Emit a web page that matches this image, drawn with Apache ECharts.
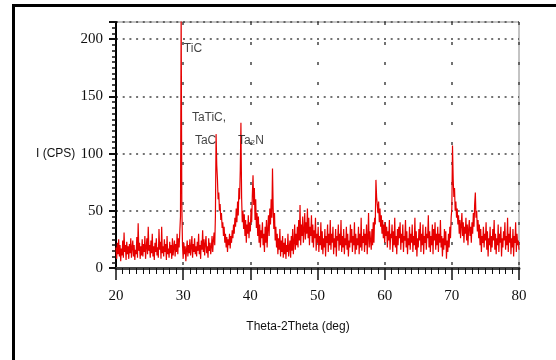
<!DOCTYPE html>
<html>
<head>
<meta charset="utf-8">
<script src="https://cdn.jsdelivr.net/npm/echarts@6/dist/echarts.min.js"></script>
<style>
  html, body { margin: 0; padding: 0; background: #fff; }
  #wrap { position: relative; width: 556px; height: 360px; overflow: hidden; }
  #chart { position: absolute; left: 0; top: 0; width: 556px; height: 360px; }
  #frame { position: absolute; left: 12px; top: 4px; width: 600px; height: 353px;
           border-left: 3px solid #000; border-top: 3px solid #000; border-bottom: 1px solid #d8d8d8;
           pointer-events: none; }
</style>
</head>
<body>
<div id="wrap">
  <div id="chart"></div>
  <div id="frame"></div>
</div>
<script>
// 2theta scan, 20..80 deg, one reading every 0.1 deg (one row = one degree)
const angleStart = 20;
const angleStep = 0.1;
const intensity = [
  18, 8, 22, 12, 25, 10, 20, 6, 17, 11,
  24, 9, 31, 14, 20, 7, 23, 12, 19, 8,
  21, 13, 26, 9, 18, 24, 10, 20, 7, 16,
  12, 27, 9, 39, 15, 22, 8, 19, 11, 25,
  10, 21, 14, 28, 8, 18, 26, 12, 36, 15,
  20, 9, 24, 13, 30, 10, 19, 7, 22, 14,
  26, 11, 18, 9, 34, 16, 23, 8, 36, 13,
  19, 10, 25, 14, 21, 7, 28, 12, 17, 9,
  23, 13, 20, 8, 26, 11, 18, 24, 10, 21,
  14, 30, 12, 26, 18, 32, 45, 225, 55, 20,
  8, 22, 12, 19, 6, 16, 24, 10, 20, 13,
  25, 11, 18, 28, 9, 21, 14, 26, 12, 19,
  10, 23, 15, 30, 12, 20, 8, 24, 16, 33,
  14, 25, 11, 21, 28, 13, 19, 9, 26, 15,
  22, 12, 18, 28, 14, 24, 31, 20, 45, 117,
  90, 78, 60, 66, 50, 56, 42, 48, 35, 40,
  28, 36, 22, 30, 18, 27, 14, 25, 20, 30,
  17, 28, 22, 33, 26, 38, 30, 44, 36, 52,
  40, 58, 46, 70, 60, 85, 127, 62, 40, 50,
  34, 47, 28, 42, 22, 38, 30, 46, 26, 40,
  32, 52, 40, 64, 81, 55, 70, 42, 60, 35,
  48, 28, 45, 22, 38, 18, 33, 26, 40, 20,
  30, 14, 36, 22, 42, 18, 34, 46, 28, 52,
  38, 60, 44, 87, 52, 34, 48, 24, 36, 18,
  30, 12, 26, 16, 34, 10, 24, 14, 28, 9,
  22, 12, 26, 8, 20, 14, 30, 10, 18, 24,
  9, 28, 15, 34, 12, 22, 38, 16, 30, 20,
  36, 18, 42, 24, 55, 20, 38, 28, 45, 22,
  33, 48, 25, 40, 30, 52, 26, 44, 20, 36,
  28, 46, 22, 38, 18, 33, 26, 44, 15, 30,
  22, 36, 14, 28, 20, 40, 16, 32, 12, 26,
  18, 34, 10, 28, 22, 38, 14, 30, 20, 42,
  16, 30, 22, 36, 12, 26, 18, 34, 10, 28,
  24, 38, 15, 30, 20, 42, 14, 28, 18, 34,
  12, 26, 20, 36, 16, 30, 10, 24, 18, 38,
  22, 34, 14, 28, 20, 40, 12, 30, 16, 26,
  20, 36, 12, 30, 18, 44, 15, 28, 22, 34,
  14, 30, 20, 38, 12, 26, 48, 18, 32, 24,
  16, 34, 20, 40, 22, 44, 38, 77, 62, 55,
  48, 58, 40, 52, 36, 46, 30, 42, 26, 38,
  22, 40, 28, 36, 18, 32, 24, 42, 16, 30,
  26, 38, 14, 32, 20, 44, 18, 28, 12, 34,
  20, 36, 26, 40, 16, 30, 22, 38, 14, 28,
  24, 42, 18, 32, 12, 26, 20, 36, 16, 30,
  22, 38, 14, 28, 20, 44, 16, 32, 10, 26,
  18, 34, 24, 40, 14, 30, 20, 38, 12, 28,
  22, 36, 16, 30, 26, 46, 18, 32, 14, 28,
  20, 38, 12, 34, 24, 40, 16, 30, 20, 36,
  14, 30, 22, 42, 18, 28, 10, 26, 16, 34,
  20, 32, 8, 24, 14, 30, 18, 36, 26, 44,
  52, 107, 78, 62, 70, 50, 58, 44, 52, 38,
  46, 30, 42, 26, 38, 48, 28, 40, 22, 36,
  30, 44, 24, 38, 20, 34, 42, 28, 36, 22,
  40, 30, 48, 36, 56, 66, 44, 50, 32, 42,
  26, 38, 20, 34, 14, 28, 22, 36, 18, 30,
  24, 40, 16, 32, 10, 26, 20, 36, 14, 28,
  18, 34, 24, 42, 16, 30, 12, 26, 20, 38,
  14, 30, 22, 36, 10, 26, 18, 32, 24, 40,
  16, 28, 20, 44, 14, 30, 22, 36, 12, 26,
  18, 34, 10, 28, 22, 40, 14, 30, 20, 24,
  16
];

const xTicks = [20, 30, 40, 50, 60, 70, 80];
const yTicks = [0, 50, 100, 150, 200];

// phase labels and where they sit (deg, CPS)
const phaseNames = ['TiC', 'TaTiC,', 'TaC', 'Ta₂N'];
const phaseX = [30.1, 31.3, 31.75, 38.15];
const phaseY = [192, 131, 111, 111];

const scan = intensity.map((v, i) => [+(angleStart + i * angleStep).toFixed(1), v]);
const phases = phaseNames.map((n, i) => [phaseX[i], phaseY[i], n]);

const serif = '"Liberation Serif", "DejaVu Serif", serif';
const sans = '"Liberation Sans", "Noto Sans", sans-serif';

const chart = echarts.init(document.getElementById('chart'));
chart.setOption({
  animation: false,
  grid: { left: 116, right: 37, top: 22, bottom: 92, show: true, borderColor: '#888', borderWidth: 1 },
  xAxis: [
    {
      type: 'value', min: xTicks[0], max: xTicks[xTicks.length - 1], interval: 10,
      axisLine: { lineStyle: { color: '#000', width: 2 } },
      axisTick: { length: 12, lineStyle: { color: '#111', width: 1.5 } },
      minorTick: { show: true, splitNumber: 10, length: 6, lineStyle: { color: '#111', width: 1 } },
      axisLabel: { fontFamily: serif, fontSize: 15, color: '#111', margin: 21 },
      splitLine: { show: true, lineStyle: { color: '#444', width: 1.5, type: [3, 17] } }
    },
    {
      type: 'value', position: 'top', min: 20, max: 80,
      axisLine: { show: true, lineStyle: { color: '#444', width: 3 } },
      axisTick: { show: false }, axisLabel: { show: false }, splitLine: { show: false }
    }
  ],
  yAxis: [
    {
      type: 'value', position: 'left', min: 0, max: 215, interval: 50,
      axisLine: { show: true, lineStyle: { color: '#000', width: 2 } },
      axisTick: { show: true, length: 7, lineStyle: { color: '#111', width: 2 } },
      axisLabel: {
        fontFamily: serif, fontSize: 15, color: '#111', margin: 13,
        formatter: v => (yTicks.indexOf(v) >= 0 ? String(v) : '')
      },
      splitLine: { show: true, lineStyle: { color: '#444', width: 1.5, type: [2, 4.7] } }
    },
    {
      type: 'value', position: 'left', min: 0, max: 215, interval: 5,
      axisLine: { show: false },
      axisTick: { show: true, length: 4, lineStyle: { color: '#111', width: 1.5 } },
      axisLabel: { show: false }, splitLine: { show: false }
    }
  ],
  graphic: [
    { type: 'text', left: 36, top: 148, style: { text: 'I (CPS)', font: '12px ' + sans, fill: '#111' } },
    { type: 'text', x: 298, y: 327, style: { text: 'Theta-2Theta (deg)', font: '12px ' + sans, fill: '#111', align: 'center', verticalAlign: 'middle' } }
  ],
  series: [
    {
      type: 'line', data: scan, symbol: 'none', clip: true,
      lineStyle: { color: '#e60000', width: 1.2 }, z: 3
    },
    {
      type: 'scatter', data: phases, symbolSize: 0, z: 5,
      label: {
        show: true, position: 'right', distance: 0,
        formatter: p => p.data[2],
        fontFamily: sans, fontSize: 12, color: '#111'
      }
    }
  ]
});
</script>
</body>
</html>
